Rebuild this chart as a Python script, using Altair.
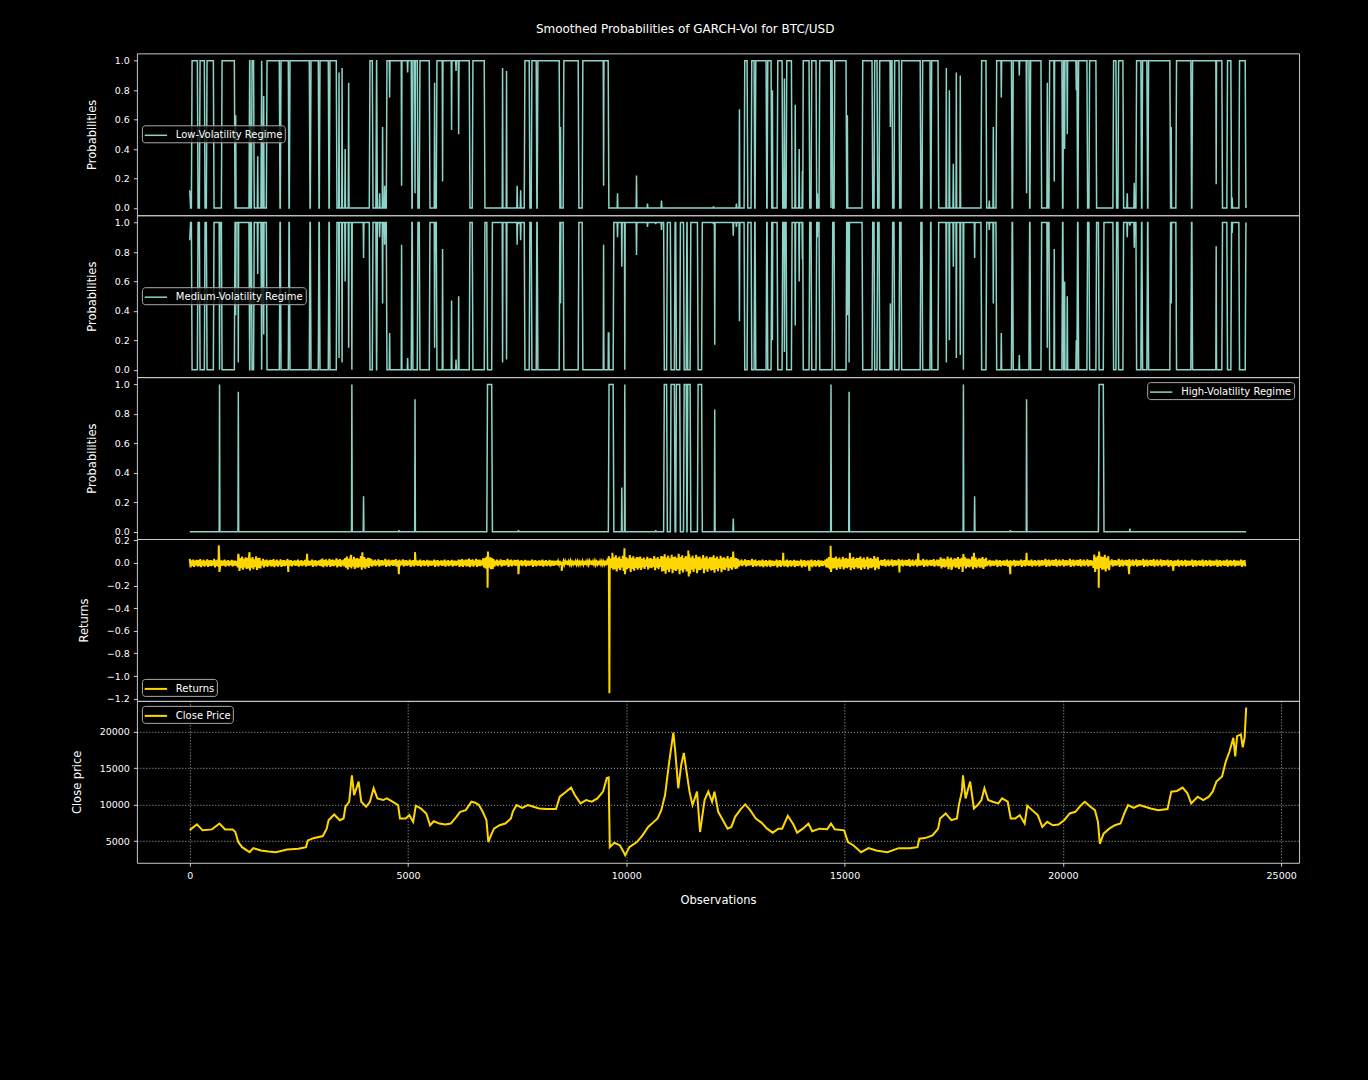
import numpy as np
import pandas as pd
import altair as alt

LAST_OBS = 24199
RAMP = 8

low_on_start = [46, 229, 389, 733, 1365, 1420, 1640, 1763, 2083, 2289,
                2770, 2976, 3205, 4121, 4272, 4510, 5105, 5266, 5655, 6479,
                7670, 7830, 7967, 8562, 8997, 12706, 12866, 12958, 13233, 13462,
                13668, 14045, 14240, 14423, 14767, 15408, 15682, 15797, 16140, 16300,
                16781, 16987, 18132, 18476, 18855, 19254, 19689, 20009, 20353, 20605,
                21154, 21269, 21681, 21818, 21956, 22596, 22963, 23764, 24039]
low_on_end = [183, 343, 549, 1030, 1385, 1470, 1656, 2060, 2266, 2747,
              2953, 3182, 3365, 4190, 4290, 5082, 5220, 5495, 6411, 6754,
              7784, 7944, 8471, 8906, 9593, 12775, 12935, 13210, 13324, 13576,
              13790, 14194, 14354, 14721, 15041, 15637, 15751, 16094, 16255, 16740,
              16964, 17148, 18247, 18830, 19231, 19506, 19986, 20330, 20559, 20765,
              21223, 21383, 21795, 21933, 22459, 22940, 23649, 23856, 24185]
low_spike_x = [1053, 1557, 1694, 3420, 3490, 3560, 3640, 4350, 4418, 4465,
               5609, 7166, 7257, 7500, 7580, 8494, 9799, 10234, 10485, 10806,
               11997, 12523, 12592, 13347, 13622, 13870, 13960, 14034, 14377, 15064,
               17331, 17400, 17491, 17560, 17650, 18315, 18407, 19643, 21475, 21635,
               22482, 23878]
low_spike_y = [0.63, 0.35, 0.76, 0.92, 0.95, 0.4, 0.85, 0.1, 0.55, 0.15,
               0.85, 0.95, 0.93, 0.15, 0.12, 0.55, 0.1, 0.22, 0.03, 0.05,
               0.01, 0.03, 0.67, 0.8, 0.88, 0.7, 0.4, 0.25, 0.1, 0.63,
               0.95, 0.8, 0.3, 0.92, 0.9, 0.05, 0.55, 0.85, 0.1, 0.17,
               0.55, 0.07]
low_dip_x = [4579, 4853, 4991, 5161, 5792, 5998, 6100, 6160, 9480, 14689,
             16049, 18590, 19002, 19169, 19803, 20040, 20101, 20307, 23512]
low_dip_y = [0.75, 0.15, 0.92, 0.1, 0.18, 0.53, 0.93, 0.5, 0.15, 0.0,
             0.55, 0.75, 0.9, 0.1, 0.18, 0.4, 0.5, 0.8, 0.16]
low_first, low_last = 0.12, 0.02

high_on_start = [6813, 9597, 10863, 11017, 11140, 11318, 11400, 11637, 20822]
high_on_end = [6925, 9707, 10932, 11110, 11232, 11380, 11470, 11733, 20934]
high_spike_x = [683, 1113, 3714, 3982, 4790, 5161, 7530, 9897, 9966, 10673,
                12026, 12450, 14689, 15103, 17722, 17979, 18796, 19169, 21536]
high_spike_y = [1.0, 0.95, 1.0, 0.24, 0.01, 0.9, 0.01, 0.3, 1.0, 0.01,
                0.83, 0.09, 1.0, 0.95, 1.0, 0.24, 0.01, 0.9, 0.02]
high_first, high_last = 0.0, 0.0

# ---------------- Returns (band envelope per stretch + isolated spikes) ----------------
ret_seg_x = [0, 700, 1100, 1630, 2300, 3000, 3550, 4130, 5000, 6200,
             6750, 6950, 7500, 8400, 9600, 10300, 10800, 11700, 12300, 12550,
             13000, 14600, 15800, 17150, 18250, 19500, 20700, 21070, 22400]
ret_seg_up = [0.035, 0.03, 0.065, 0.035, 0.03, 0.04, 0.06, 0.035, 0.03, 0.04,
              0.065, 0.035, 0.03, 0.02, 0.07, 0.06, 0.08, 0.07, 0.06, 0.035,
              0.03, 0.06, 0.035, 0.055, 0.03, 0.035, 0.075, 0.035, 0.03]
ret_seg_dn = [-0.04, -0.035, -0.07, -0.04, -0.035, -0.04, -0.06, -0.035, -0.035, -0.04,
              -0.075, -0.035, -0.035, -0.02, -0.08, -0.065, -0.1, -0.09, -0.07, -0.035,
              -0.04, -0.065, -0.035, -0.055, -0.035, -0.035, -0.08, -0.035, -0.035]
# relative reach of successive swings inside the band (ragged band edge)
ret_texture = [1.0, 0.65, 0.85, 0.55, 0.75, 0.7, 0.95, 0.6, 0.8, 0.5, 0.9, 0.65, 0.7, 0.55]
ret_spike_x = [665, 680, 1112, 1370, 2258, 2688, 3697, 3955, 4790, 5160,
               6823, 6830, 7530, 8520, 9613, 9680, 9958, 9970, 11420, 11430,
               12450, 13595, 14198, 14680, 14690, 15120, 16257, 16687, 17445, 17703,
               17720, 17962, 18797, 19168, 20821, 20830, 21519, 22527]
ret_spike_y = [0.155, -0.08, 0.08, 0.095, -0.08, 0.08, 0.07, 0.095, -0.1, 0.095,
               -0.22, 0.1, -0.1, -0.07, -1.152, 0.09, 0.13, -0.1, 0.11, -0.12,
               0.1, 0.09, -0.07, 0.152, -0.08, 0.09, -0.085, 0.085, -0.06, -0.08,
               0.08, 0.09, -0.1, 0.09, -0.22, 0.1, -0.1, -0.07]

# ---------------- Close price ----------------
price_x = [0, 165, 294, 510, 682, 811, 983, 1044, 1112, 1199,
           1371, 1457, 1629, 1802, 1974, 2232, 2491, 2663, 2706, 2835,
           3050, 3137, 3180, 3309, 3438, 3524, 3567, 3653, 3714, 3765,
           3869, 3929, 4041, 4127, 4213, 4299, 4429, 4515, 4644, 4773,
           4816, 4945, 5031, 5118, 5178, 5290, 5419, 5505, 5591, 5720,
           5850, 5979, 6108, 6194, 6323, 6453, 6539, 6625, 6711, 6797,
           6840, 6883, 6969, 7098, 7228, 7357, 7400, 7486, 7615, 7745,
           7874, 8003, 8175, 8390, 8477, 8606, 8735, 8821, 8950, 9079,
           9209, 9338, 9467, 9553, 9596, 9622, 9725, 9855, 9941, 9975,
           10070, 10242, 10372, 10501, 10630, 10716, 10802, 10888, 10974, 11017,
           11078, 11121, 11190, 11259, 11319, 11379, 11448, 11517, 11620, 11689,
           11793, 11879, 11965, 12019, 12105, 12191, 12320, 12407, 12493, 12622,
           12725, 12837, 12966, 13095, 13225, 13354, 13483, 13569, 13699, 13828,
           13914, 14043, 14172, 14258, 14431, 14603, 14689, 14775, 14990, 15077,
           15206, 15378, 15550, 15723, 15981, 16239, 16498, 16670, 16713, 16842,
           17015, 17144, 17187, 17316, 17445, 17574, 17617, 17686, 17712, 17772,
           17876, 17962, 18048, 18134, 18203, 18289, 18393, 18522, 18608, 18737,
           18806, 18909, 19013, 19125, 19185, 19297, 19426, 19529, 19641, 19771,
           19900, 20029, 20158, 20287, 20417, 20503, 20632, 20735, 20804, 20847,
           20933, 21063, 21192, 21321, 21407, 21493, 21622, 21752, 21881, 22010,
           22182, 22397, 22484, 22613, 22742, 22854, 22940, 23087, 23216, 23345,
           23431, 23517, 23646, 23733, 23819, 23905, 23948, 23991, 24077, 24120,
           24163, 24199]
price_y = [6500, 7300, 6475, 6600, 7400, 6600, 6600, 6250, 4860, 4170,
           3480, 4030, 3710, 3570, 3480, 3850, 3940, 4170, 5090, 5400,
           5690, 6700, 7860, 8640, 7860, 8090, 9700, 10390, 13990, 11300,
           13150, 10390, 9700, 10390, 12230, 10850, 10620, 10850, 10390, 9930,
           8090, 8090, 8550, 7630, 9840, 9470, 8780, 7170, 7720, 7400,
           7260, 7400, 8320, 9010, 9240, 10390, 10250, 9930, 9010, 7860,
           4860, 5550, 6700, 7170, 7400, 8090, 9010, 9930, 9560, 9930,
           9700, 9470, 9380, 9380, 11080, 11680, 12330, 11310, 10160, 10620,
           10390, 10850, 11770, 13620, 13710, 4170, 4770, 4400, 3480, 3050,
           4170, 4860, 5780, 6940, 7630, 8090, 9240, 11310, 15460, 17300,
           19840, 17300, 12230, 15460, 17070, 14540, 11770, 9930, 11770, 6240,
           10620, 11770, 10390, 11770, 9010, 8090, 6700, 6940, 8320, 9380,
           10020, 9240, 8090, 7530, 6700, 6150, 6700, 6700, 8460, 7260,
           6150, 6700, 7400, 6340, 6700, 6610, 7400, 6610, 6470, 4860,
           4400, 3480, 4030, 3710, 3480, 4030, 4030, 4170, 5320, 5410,
           5780, 6700, 8090, 8780, 7860, 8090, 9930, 11770, 13990, 10850,
           13150, 9470, 9930, 10620, 12230, 10620, 10390, 10160, 10850, 10390,
           8090, 8090, 8550, 7400, 9840, 9240, 8550, 6940, 7630, 7170,
           7260, 7860, 8780, 9010, 9930, 10390, 9700, 9240, 7630, 4630,
           6010, 6700, 7170, 7400, 8780, 9930, 9560, 9930, 9700, 9470,
           9240, 9380, 11770, 11870, 12330, 11540, 10160, 11080, 10620, 11080,
           11770, 13150, 13850, 15920, 17300, 19150, 16610, 19380, 19610, 17850,
           19150, 23300]

x_ticks = [0, 5000, 10000, 15000, 20000, 25000]
prob_ticks = [0.0, 0.2, 0.4, 0.6, 0.8, 1.0]
ret_ticks = [-1.2, -1.0, -0.8, -0.6, -0.4, -0.2, 0.0, 0.2]
price_ticks = [5000, 10000, 15000, 20000]

TEAL = "#8dd3c7"
GOLD = "#ffd700"
X_DOMAIN = [-1210, 25410]
PW, PH = 1163, 162


def regime_points(starts, ends, sx, sy, dx, dy, first, last):
    pts = [(0.0, first), (20.0, 0.0)]
    for s, e in zip(starts, ends):
        pts += [(s - RAMP, 0.0), (s + RAMP, 1.0), (e - RAMP, 1.0), (e + RAMP, 0.0)]
    for x, v in zip(sx, sy):
        pts += [(x - RAMP, 0.0), (x, v), (x + RAMP, 0.0)]
    for x, v in zip(dx, dy):
        pts += [(x - RAMP, 1.0), (x, v), (x + RAMP, 1.0)]
    pts = [p for p in pts if 0 <= p[0] < LAST_OBS]
    pts.append((float(LAST_OBS), last))
    pts.sort(key=lambda p: p[0])
    xs, ys, seen = [], [], set()
    for x, y in pts:
        if x in seen:
            continue
        seen.add(x)
        xs.append(x)
        ys.append(y)
    return np.array(xs, float), np.array(ys, float)


lx, ly = regime_points(low_on_start, low_on_end, low_spike_x, low_spike_y,
                       low_dip_x, low_dip_y, low_first, low_last)
hx, hy = regime_points(high_on_start, high_on_end, high_spike_x, high_spike_y,
                       [], [], high_first, high_last)
grid = np.union1d(lx, hx)
low_v = np.interp(grid, lx, ly)
high_v = np.interp(grid, hx, hy)
# the three smoothed probabilities sum to one
med_v = np.clip(1.0 - low_v - high_v, 0.0, 1.0)

df_low = pd.DataFrame({"x": grid, "p": low_v, "series": "Low-Volatility Regime"})
df_med = pd.DataFrame({"x": grid, "p": med_v, "series": "Medium-Volatility Regime"})
df_high = pd.DataFrame({"x": grid, "p": high_v, "series": "High-Volatility Regime"})

zx = np.arange(0, LAST_OBS + 1, 20)
seg = np.searchsorted(np.array(ret_seg_x), zx, side="right") - 1
k = np.arange(len(zx))
tex = np.array(ret_texture)[(k // 2) % len(ret_texture)]
zy = np.where(k % 2 == 0, np.array(ret_seg_up)[seg], np.array(ret_seg_dn)[seg]) * tex
rx = np.concatenate([zx, np.array(ret_spike_x)])
ry = np.concatenate([zy, np.array(ret_spike_y)])
order = np.argsort(rx, kind="stable")
df_ret = pd.DataFrame({"x": rx[order], "r": ry[order], "series": "Returns"})

df_price = pd.DataFrame({"x": price_x, "c": price_y, "series": "Close Price"})

LEG_COMMON = dict(
    title=None, padding=2, strokeColor="#aaaaaa", fillColor="rgba(0,0,0,0.8)",
    cornerRadius=3, labelColor="white", labelFont="DejaVu Sans", labelFontSize=10,
    symbolType="M-1.6,0L1.6,0", symbolSize=196, symbolOffset=4, labelOffset=12,
)


def panel(df, ycol, name, color, sw, ydomain, yticks, ytitle, legend, xaxis=None, ygrid=False, yfmt=".1f"):
    return alt.Chart(df).mark_line(strokeWidth=sw, clip=True).encode(
        x=alt.X("x:Q", scale=alt.Scale(domain=X_DOMAIN, nice=False, zero=False), axis=xaxis),
        y=alt.Y(f"{ycol}:Q", scale=alt.Scale(domain=ydomain, nice=False, zero=False),
                axis=alt.Axis(values=yticks, format=yfmt, title=ytitle, grid=ygrid)),
        color=alt.Color("series:N", scale=alt.Scale(domain=[name], range=[color]), legend=legend),
    ).properties(width=PW, height=PH)


p1 = panel(df_low, "p", "Low-Volatility Regime", TEAL, 1.5, [-0.05, 1.05], prob_ticks, "Probabilities",
           alt.Legend(orient="none", legendX=5, legendY=72, symbolStrokeWidth=1.5, **LEG_COMMON))
p2 = panel(df_med, "p", "Medium-Volatility Regime", TEAL, 1.5, [-0.05, 1.05], prob_ticks, "Probabilities",
           alt.Legend(orient="none", legendX=5, legendY=72, symbolStrokeWidth=1.5, **LEG_COMMON))
p3 = panel(df_high, "p", "High-Volatility Regime", TEAL, 1.5, [-0.05, 1.05], prob_ticks, "Probabilities",
           alt.Legend(orient="top-right", offset=5, symbolStrokeWidth=1.5, **LEG_COMMON))
p4 = panel(df_ret, "r", "Returns", GOLD, 2, [-1.22, 0.2115], ret_ticks, "Returns",
           alt.Legend(orient="bottom-left", offset=5, symbolStrokeWidth=2, **LEG_COMMON))
p5 = panel(df_price, "c", "Close Price", GOLD, 2, [2030, 24200], price_ticks, "Close price",
           alt.Legend(orient="top-left", offset=5, symbolStrokeWidth=2, **LEG_COMMON),
           xaxis=alt.Axis(values=x_ticks, format="d", title="Observations", grid=True),
           ygrid=True, yfmt="d")

chart = alt.vconcat(p1, p2, p3, p4, p5, spacing=0, bounds="flush").resolve_scale(
    color="independent", y="independent"
).resolve_legend(color="independent").properties(
    title=alt.TitleParams(
        "Smoothed Probabilities of GARCH-Vol for BTC/USD", anchor="middle", frame="bounds",
        fontSize=12, fontWeight="normal", color="white", font="DejaVu Sans", offset=17,
    ),
    padding={"left": 70, "top": 22, "right": 68, "bottom": 186},
).configure(background="black").configure_view(
    stroke="#c8c8c8", strokeWidth=1
).configure_axis(
    domain=False, labelColor="white", tickColor="white", titleColor="white",
    labelFont="DejaVu Sans", titleFont="DejaVu Sans", labelFontSize=9.5, titleFontSize=11.5,
    titleFontWeight="normal", tickSize=3.5, tickWidth=0.8, labelPadding=4,
    labelFlush=False, gridColor="white", gridOpacity=0.85, gridWidth=0.8, gridDash=[1, 2],
).configure_axisY(titlePadding=17).configure_axisX(titlePadding=15)

chart.save("out.html", embed_options={"renderer": "svg", "actions": False})
